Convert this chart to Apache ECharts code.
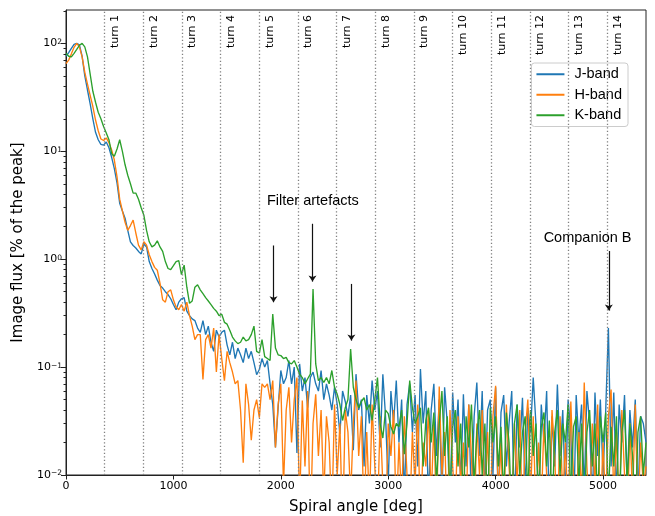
<!DOCTYPE html>
<html><head><meta charset="utf-8">
<script src="https://cdn.jsdelivr.net/npm/echarts@6/dist/echarts.min.js"></script>
<style>html,body{margin:0;padding:0;background:#fff}#c{width:655px;height:516px}</style>
</head><body><div id="c"></div>
<script>
// Sampling step of the curves (spiral angle, degrees)
const angleStep = 25;

// Image flux [% of peak], J-band, read every 25 deg from 0 to 5400
const jBand = [
  76, 82, 90, 98, 100, 97, 76, 50,
  37, 27.5, 20, 15, 12.8, 11.6, 11.4, 12.2,
  10.8, 8.8, 6.9, 5.1, 3.3, 2.8, 2.4, 1.85,
  1.45, 1.34, 1.27, 1.18, 1.12, 1.38, 1.3, 0.95,
  0.82, 0.73, 0.64, 0.57, 0.54, 0.5, 0.47, 0.43,
  0.38, 0.34, 0.4, 0.43, 0.44, 0.33, 0.3, 0.28,
  0.27, 0.23, 0.21, 0.27, 0.2, 0.24, 0.17, 0.14,
  0.22, 0.19, 0.21, 0.22, 0.16, 0.13, 0.17, 0.12,
  0.15, 0.13, 0.11, 0.15, 0.12, 0.14, 0.11, 0.085,
  0.095, 0.12, 0.1, 0.115, 0.07, 0.045, 0.018, 0.042,
  0.093, 0.07, 0.08, 0.115, 0.07, 0.1, 0.016, 0.107,
  0.06, 0.08, 0.042, 0.08, 0.09, 0.07, 0.06, 0.093,
  0.05, 0.07, 0.055, 0.04, 0.065, 0.045, 0.024, 0.06,
  0.048, 0.035, 0.055, 0.017, 0.086, 0.04, 0.05, 0.012,
  0.055, 0.03, 0.075, 0.04, 0.06, 0.018, 0.086, 0.035,
  0.008, 0.06, 0.03, 0.075, 0.02, 0.05, 0.006, 0.045,
  0.07, 0.025, 0.055, 0.012, 0.096, 0.03, 0.06, 0.005,
  0.04, 0.07, 0.015, 0.05, 0.006, 0.065, 0.03, 0.004,
  0.058, 0.02, 0.05, 0.008, 0.056, 0.012, 0.045, 0.005,
  0.035, 0.072, 0.015, 0.06, 0.006, 0.04, 0.05, 0.01,
  0.065, 0.005, 0.038, 0.055, 0.012, 0.03, 0.06, 0.004,
  0.045, 0.018, 0.052, 0.007, 0.042, 0.025, 0.08, 0.03,
  0.005, 0.045, 0.02, 0.06, 0.004, 0.035, 0.012, 0.069,
  0.015, 0.04, 0.006, 0.05, 0.025, 0.003, 0.055, 0.02,
  0.045, 0.007, 0.06, 0.03, 0.005, 0.058, 0.015, 0.05,
  0.01, 0.04, 0.23, 0.012, 0.058, 0.006, 0.045, 0.02,
  0.055, 0.008, 0.04, 0.018, 0.05, 0.006, 0.035, 0.03,
  0.02
];

// H-band
const hBand = [
  65, 70, 80, 92, 100, 93, 75, 54,
  42, 33, 26, 19.5, 15.5, 13, 12.6, 13.3,
  12, 10.3, 8.3, 5.8, 3.6, 2.8, 2.2, 1.85,
  2.05, 2.3, 1.75, 1.35, 1.22, 1.45, 1.35, 1.1,
  0.95, 0.84, 0.79, 0.6, 0.42, 0.4, 0.5, 0.52,
  0.42, 0.36, 0.34, 0.38, 0.33, 0.4, 0.3, 0.24,
  0.18, 0.2, 0.2, 0.077, 0.18, 0.2, 0.15, 0.23,
  0.09, 0.2, 0.12, 0.075, 0.14, 0.11, 0.09, 0.07,
  0.075, 0.04, 0.013, 0.07, 0.045, 0.021, 0.04, 0.05,
  0.034, 0.07, 0.065, 0.07, 0.05, 0.075, 0.018, 0.045,
  0.07, 0.008, 0.04, 0.065, 0.02, 0.05, 0.08, 0.005,
  0.049, 0.012, 0.06, 0.003, 0.03, 0.056, 0.015, 0.04,
  0.006, 0.035, 0.02, 0.004, 0.045, 0.01, 0.03, 0.003,
  0.04, 0.025, 0.006, 0.03, 0.075, 0.015, 0.035, 0.004,
  0.025, 0.005, 0.045, 0.012, 0.004, 0.035, 0.008, 0.003,
  0.03, 0.015, 0.04, 0.004, 0.02, 0.006, 0.035, 0.01,
  0.004, 0.025, 0.008, 0.045, 0.003, 0.02, 0.012, 0.04,
  0.006, 0.03, 0.004, 0.066, 0.01, 0.025, 0.003, 0.04,
  0.012, 0.005, 0.035, 0.008, 0.02, 0.004, 0.045, 0.015,
  0.003, 0.03, 0.01, 0.04, 0.005, 0.025, 0.004, 0.035,
  0.067, 0.006, 0.02, 0.003, 0.045, 0.012, 0.004, 0.03,
  0.008, 0.04, 0.003, 0.025, 0.05, 0.006, 0.035, 0.004,
  0.02, 0.005, 0.03, 0.01, 0.004, 0.04, 0.015, 0.003,
  0.035, 0.006, 0.02, 0.004, 0.048, 0.01, 0.003, 0.025,
  0.006, 0.072, 0.012, 0.004, 0.03, 0.008, 0.045, 0.004,
  0.02, 0.005, 0.035, 0.062, 0.006, 0.025, 0.004, 0.04,
  0.01, 0.003, 0.03, 0.006, 0.045, 0.004, 0.02, 0.008,
  0.012
];

// K-band
const kBand = [
  81, 76, 75, 81, 88, 96, 100, 93,
  75, 52, 36, 28.5, 23, 20, 17, 14.8,
  12.8, 9.5, 9.0, 10.5, 12.8, 10, 7.5, 6,
  5, 4.1, 4.1, 3.6, 3.0, 2.55, 1.85, 1.45,
  1.3, 1.35, 1.48, 1.3, 1.18, 0.95, 0.82, 0.8,
  0.87, 0.95, 0.97, 0.72, 0.88, 0.55, 0.39, 0.41,
  0.55, 0.58, 0.52, 0.48, 0.44, 0.41, 0.38, 0.35,
  0.33, 0.3, 0.31, 0.26, 0.25, 0.22, 0.19, 0.175,
  0.165, 0.17, 0.19, 0.175, 0.18, 0.2, 0.24, 0.14,
  0.135, 0.18, 0.125, 0.12, 0.115, 0.31, 0.15, 0.13,
  0.128, 0.12, 0.123, 0.11, 0.107, 0.115, 0.1, 0.086,
  0.08, 0.07, 0.078, 0.086, 0.53, 0.107, 0.075, 0.08,
  0.072, 0.08, 0.07, 0.093, 0.065, 0.056, 0.045, 0.032,
  0.042, 0.05, 0.147, 0.065, 0.05, 0.042, 0.048, 0.052,
  0.04, 0.045, 0.032, 0.05, 0.08, 0.03, 0.022, 0.04,
  0.037, 0.028, 0.024, 0.03, 0.028, 0.04, 0.0156, 0.03,
  0.075, 0.042, 0.03, 0.035, 0.042, 0.012, 0.032, 0.042,
  0.02, 0.038, 0.008, 0.03, 0.06, 0.015, 0.035, 0.006,
  0.028, 0.04, 0.012, 0.03, 0.005, 0.035, 0.018, 0.045,
  0.008, 0.025, 0.04, 0.01, 0.03, 0.004, 0.042, 0.02,
  0.035, 0.012, 0.028, 0.006, 0.038, 0.02, 0.004, 0.03,
  0.045, 0.01, 0.025, 0.035, 0.006, 0.04, 0.015, 0.03,
  0.005, 0.028, 0.038, 0.012, 0.032, 0.004, 0.025, 0.04,
  0.01, 0.03, 0.02, 0.045, 0.006, 0.028, 0.035, 0.008,
  0.03, 0.004, 0.025, 0.04, 0.012, 0.03, 0.005, 0.035,
  0.02, 0.038, 0.006, 0.028, 0.012, 0.035, 0.004, 0.025,
  0.04, 0.008, 0.03, 0.015, 0.004, 0.025, 0.035, 0.01,
  0.02
];

const seriesNames = ['J-band', 'H-band', 'K-band'];
const turnAngles = [360, 720, 1080, 1440, 1800, 2160, 2520, 2880, 3240, 3600, 3960, 4320, 4680, 5040];
const turnLabels = ['turn 1', 'turn 2', 'turn 3', 'turn 4', 'turn 5', 'turn 6', 'turn 7', 'turn 8', 'turn 9', 'turn 10', 'turn 11', 'turn 12', 'turn 13', 'turn 14'];
const xTicks = [0, 1000, 2000, 3000, 4000, 5000];
const yTicks = [0.01, 0.1, 1, 10, 100];
const minorMultipliers = [2, 3, 4, 5, 6, 7, 8, 9];
// arrows: [angle, tail value, head value]
const arrows = [[1932, 1.34, 0.399], [2295, 2.13, 0.62], [2657, 0.59, 0.176], [5054, 1.19, 0.334]];
const noteTexts = ['Filter artefacts', 'Companion B'];
const notePos = [[2298, 3.46], [4856, 1.56]];

const X_MAX = 5400, Y_MIN = 0.01, Y_MAX = 204;
const FONT = 'DejaVu Sans';
const NOTE_FONT = 'Liberation Sans';
const colors = ['#1f77b4', '#ff7f0e', '#2ca02c'];

const minorTicks = [];
yTicks.forEach(d => minorMultipliers.forEach(m => { const v = +(m * d).toPrecision(3); if (v <= Y_MAX) minorTicks.push(v); }));

const toPairs = arr => arr.map((v, i) => [i * angleStep, v]);
const supFmt = v => { const e = Math.round(Math.log10(v)); return '{b|10}{s|' + (e < 0 ? '\u2212' + (-e) : e) + '}'; };

const chart = echarts.init(document.getElementById('c'), null, { renderer: 'canvas' });
const axisColor = '#222';
const yBase = {
  type: 'log', logBase: 10, min: Y_MIN, max: Y_MAX, position: 'left',
  splitLine: { show: false }
};
const option = {
  animation: false,
  backgroundColor: '#fff',
  grid: {
    left: 66, right: 9, top: 10, bottom: 41, containLabel: false, outerBoundsMode: 'none',
    show: true, borderColor: axisColor, borderWidth: 1, backgroundColor: 'transparent'
  },
  legend: {
    data: seriesNames.map(n => ({ name: n, icon: 'rect' })), orient: 'vertical', right: 27, top: 63,
    itemWidth: 28, itemHeight: 2, itemGap: 4,
    backgroundColor: 'rgba(255,255,255,0.8)', borderColor: '#ccc', borderWidth: 1, borderRadius: 3,
    padding: [3, 6, 3, 5],
    textStyle: { fontFamily: NOTE_FONT, fontSize: 14.5, color: '#000', padding: [0, 0, 0, 5], lineHeight: 16.5 }
  },
  xAxis: {
    type: 'value', min: 0, max: X_MAX,
    name: 'Spiral angle [deg]', nameLocation: 'middle', nameGap: 25,
    nameTextStyle: { fontFamily: FONT, fontSize: 15, color: '#000' },
    axisLine: { lineStyle: { color: axisColor, width: 1 } },
    axisTick: { show: true, length: 4.5, lineStyle: { color: axisColor }, customValues: xTicks },
    axisLabel: { customValues: xTicks, formatter: v => String(v), fontFamily: FONT, fontSize: 11, color: '#000', margin: 6 },
    splitLine: { show: false }
  },
  yAxis: [
    Object.assign({}, yBase, {
      name: 'Image flux [% of the peak]', nameLocation: 'middle', nameGap: 33,
      nameTextStyle: { fontFamily: FONT, fontSize: 15, color: '#000' },
      axisLine: { show: true, lineStyle: { color: axisColor, width: 1 } },
      axisTick: { show: true, length: 5, lineStyle: { color: axisColor }, customValues: yTicks },
      axisLabel: {
        customValues: yTicks, formatter: supFmt, margin: 4,
        rich: {
          b: { fontFamily: FONT, fontSize: 11, color: '#000' },
          s: { fontFamily: FONT, fontSize: 7.5, color: '#000', verticalAlign: 'top' }
        }
      }
    }),
    Object.assign({}, yBase, {
      axisLine: { show: false },
      axisTick: { show: true, length: 2.5, lineStyle: { color: axisColor }, customValues: minorTicks },
      axisLabel: { show: false }
    })
  ],
  series: [
    {
      type: 'line', name: 'turns', data: [], z: 1, silent: true,
      markLine: {
        silent: true, symbol: ['none', 'none'], animation: false,
        lineStyle: { color: '#808080', type: [1.3, 2.2], width: 1.3 },
        label: { show: true, position: 'insideEndBottom', formatter: p => p.name, fontFamily: FONT, fontSize: 11, color: '#000', distance: 5 },
        emphasis: { disabled: true },
        data: turnAngles.map((a, i) => ({ xAxis: a, name: turnLabels[i] }))
      }
    }
  ].concat([jBand, hBand, kBand].map((arr, i) => ({
    type: 'line', name: seriesNames[i], data: toPairs(arr), symbol: 'none', showSymbol: false,
    lineStyle: { width: 1.35, color: colors[i] }, itemStyle: { color: colors[i] },
    z: 2 + i, clip: true, silent: true
  }))).concat([
    {
      type: 'line', name: 'notes', data: [], z: 10, silent: true,
      markLine: {
        silent: true, symbol: ['none', 'arrow'], symbolSize: 6, animation: false,
        lineStyle: { color: '#111', width: 1.2, type: 'solid' },
        label: { show: false },
        emphasis: { disabled: true },
        data: arrows.map(a => [{ coord: [a[0], a[1]] }, { coord: [a[0], a[2]] }])
      },
      markPoint: {
        silent: true, symbol: 'rect', symbolSize: 1, itemStyle: { color: 'rgba(0,0,0,0)' }, animation: false,
        label: { show: true, position: 'inside', formatter: p => p.name, fontFamily: NOTE_FONT, fontSize: 14.5, color: '#000' },
        data: noteTexts.map((t, i) => ({ name: t, coord: notePos[i] }))
      }
    }
  ])
};
chart.setOption(option);
</script>
</body></html>
